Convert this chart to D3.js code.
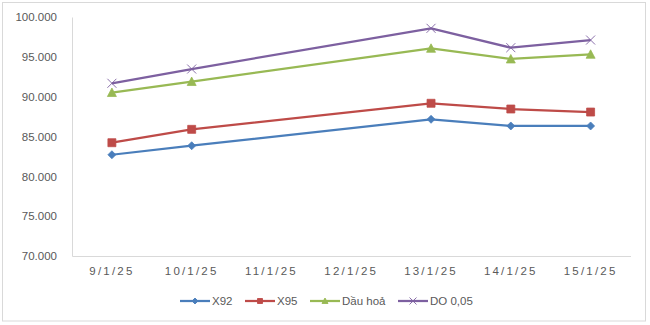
<!DOCTYPE html>
<html><head><meta charset="utf-8">
<script src="https://cdn.jsdelivr.net/npm/d3@7/dist/d3.min.js"></script>
<style>
html,body{margin:0;padding:0;background:#fff;}
svg{display:block;}
text{font-family:"Liberation Sans",Arial,sans-serif;fill:#595959;}
</style></head>
<body><svg id="c" width="650" height="325"></svg>
<script>
const categories = ["9/1/25","10/1/25","11/1/25","12/1/25","13/1/25","14/1/25","15/1/25"];
const x92 = [82.71, 83.84, null, null, 87.16, 86.32, 86.32];
const x95 = [84.22, 85.90, null, null, 89.17, 88.45, 88.07];
const dauHoa = [90.52, 91.90, null, null, 96.07, 94.73, 95.32];
const do005 = [91.68, 93.47, null, null, 98.58, 96.15, 97.11];
const seriesNames = ["X92", "X95", "Dầu hoả", "DO 0,05"];
const yTicks = [70, 75, 80, 85, 90, 95, 100];

(function(){
const seriesData = [x92, x95, dauHoa, do005];
const colors = ["#4A7EBB", "#BE4B48", "#98B954", "#7D60A0"];
const markers = ["diamond", "square", "triangle", "x"];
const mSize = [7, 8, 8, 9];

const svg = d3.select("#c");
svg.append("rect").attr("x",2.5).attr("y",2.5).attr("width",643).attr("height",318.5)
  .attr("fill","#fff").attr("stroke","#d9d9d9").attr("stroke-width",1);

const pL = 72, pR = 630.5, pT = 17, pB = 256;
const x = d3.scaleBand().domain(categories).range([pL, pR]).padding(0);
const y = d3.scaleLinear().domain([70, 100]).range([pB, pT]);
const fmt = d3.format(".3f");

const yAxis = svg.append("g").attr("transform",`translate(${pL},0)`)
  .call(d3.axisLeft(y).tickValues(yTicks).tickSize(0).tickPadding(15).tickFormat(fmt));
yAxis.select(".domain").attr("stroke","#d9d9d9").attr("stroke-width",1);
yAxis.selectAll("text").attr("font-size","11.5px").style("fill","#595959");

const xAxis = svg.append("g").attr("transform",`translate(0,${pB})`)
  .call(d3.axisBottom(x).tickSize(0).tickPadding(11));
xAxis.select(".domain").attr("stroke","#d9d9d9").attr("stroke-width",1);
xAxis.selectAll("text").attr("font-size","11.5px").style("fill","#595959")
  .style("letter-spacing","2.2px");

function markerPath(type, s) {
  const h = s/2;
  if (type==="diamond") return `M0,${-h-0.5}L${h+0.5},0L0,${h+0.5}L${-h-0.5},0Z`;
  if (type==="square") return `M${-h},${-h}H${h}V${h}H${-h}Z`;
  if (type==="triangle") return `M0,${-h-0.5}L${h+0.5},${h}L${-h-0.5},${h}Z`;
  return `M${-h},${-h}L${h},${h}M${h},${-h}L${-h},${h}`;
}

const line = d3.line().x(d=>x(d.c)+x.bandwidth()/2).y(d=>y(d.v));

seriesData.forEach((vals,i)=>{
  const pts = categories.map((c,j)=>({c, v: vals[j]})).filter(d=>d.v!==null);
  svg.append("path").datum(pts).attr("d",line).attr("fill","none")
    .attr("stroke",colors[i]).attr("stroke-width",2.25).attr("stroke-linejoin","round");
  svg.selectAll(null).data(pts).enter().append("path")
    .attr("transform",d=>`translate(${x(d.c)+x.bandwidth()/2},${y(d.v)})`)
    .attr("d",markerPath(markers[i],mSize[i]))
    .attr("fill",markers[i]==="x"?"none":colors[i])
    .attr("stroke",colors[i]).attr("stroke-width",markers[i]==="x"?0.9:0.75);
});

const legendX = [180, 245, 310, 398];
const ly = 301;
seriesNames.forEach((n,i)=>{
  const g = svg.append("g").attr("transform",`translate(${legendX[i]},${ly})`);
  g.append("line").attr("x1",0).attr("x2",30).attr("y1",0).attr("y2",0)
    .attr("stroke",colors[i]).attr("stroke-width",2.25);
  g.append("path").attr("transform","translate(15,0)").attr("d",markerPath(markers[i],markers[i]==="x"?7:5))
    .attr("fill",markers[i]==="x"?"none":colors[i]).attr("stroke",colors[i]).attr("stroke-width",0.9);
  g.append("text").attr("x",32).attr("y",4).attr("font-size","11.5px").text(n);
});
})();
</script></body></html>
